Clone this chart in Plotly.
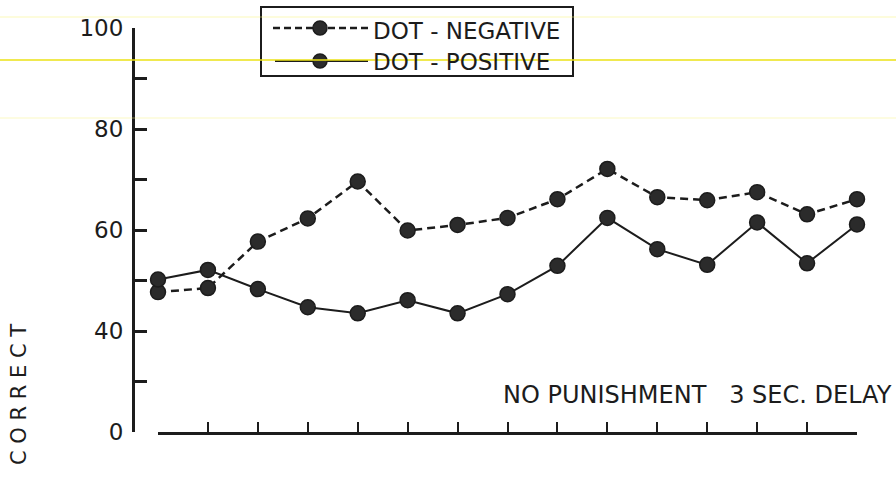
import plotly.graph_objects as go

# Trial blocks and percent-correct scores for the two discrimination conditions
trials = list(range(1, 16))
dot_negative = [47.7, 48.5, 57.7, 62.3, 69.6, 59.9, 61.0, 62.4, 66.1, 72.1, 66.5, 65.9, 67.5, 63.1, 66.1]
dot_positive = [50.2, 52.1, 48.3, 44.7, 43.5, 46.1, 43.5, 47.3, 52.9, 62.4, 56.2, 53.1, 61.5, 53.4, 61.1]

# Broken y axis: the baseline labelled 0 sits one step below 40
y_tickvals = [20, 30, 40, 50, 60, 70, 80, 90, 100]
y_ticktext = ["0", "", "40", "", "60", "", "80", "", "100"]

INK = "#1c1c1c"
FONT = "DejaVu Sans"
W, H = 896, 498


def px_x(p):
    return p / W


def px_y(p):
    return 1 - p / H


marker = dict(size=15, color="#2b2b2b", line=dict(color=INK, width=1.5))

fig = go.Figure()
# empty trace so the carrier subplot (x, y) exists and holds the y axis line
fig.add_trace(go.Scatter(x=[None], y=[None], mode="lines", hoverinfo="skip",
                         showlegend=False, xaxis="x", yaxis="y"))
fig.add_trace(go.Scatter(
    x=trials, y=dot_negative, mode="lines+markers", name="DOT - NEGATIVE",
    line=dict(color=INK, width=2.5, dash="8px,5px"), marker=marker, cliponaxis=False,
    xaxis="x2", yaxis="y",
))
fig.add_trace(go.Scatter(
    x=trials, y=dot_positive, mode="lines+markers", name="DOT - POSITIVE",
    line=dict(color=INK, width=2), marker=marker, cliponaxis=False,
    xaxis="x2", yaxis="y",
))

shapes = []
annotations = []

# Hand-built legend box
shapes.append(dict(type="rect", xref="paper", yref="paper",
                   x0=px_x(261), x1=px_x(573), y0=px_y(76), y1=px_y(7),
                   line=dict(color=INK, width=2), fillcolor="rgba(0,0,0,0)", layer="above"))
shapes.append(dict(type="line", xref="paper", yref="paper",
                   x0=px_x(273), x1=px_x(371), y0=px_y(28), y1=px_y(28),
                   line=dict(color=INK, width=2.5, dash="7px,4px")))
shapes.append(dict(type="line", xref="paper", yref="paper",
                   x0=px_x(275), x1=px_x(368), y0=px_y(61), y1=px_y(61),
                   line=dict(color=INK, width=2)))
for cy in (28, 61):
    shapes.append(dict(type="circle", xref="paper", yref="paper",
                       x0=px_x(313), x1=px_x(327), y0=px_y(cy + 7), y1=px_y(cy - 7),
                       line=dict(color=INK, width=1.5), fillcolor="#2b2b2b"))
for text, cy in (("DOT - NEGATIVE", 31), ("DOT - POSITIVE", 62)):
    annotations.append(dict(text=text, xref="paper", yref="paper",
                            x=px_x(371), y=px_y(cy), xanchor="left", yanchor="middle",
                            showarrow=False, font=dict(family=FONT, size=23, color=INK)))

# Faint yellow streaks running across the sheet
for yy, col, wd in ((17, "rgba(245,240,120,0.35)", 1.5),
                    (60, "rgba(235,225,20,0.75)", 1.8),
                    (118, "rgba(245,240,120,0.3)", 1.5)):
    shapes.append(dict(type="line", xref="paper", yref="paper",
                       x0=0, x1=1, y0=px_y(yy), y1=px_y(yy),
                       line=dict(color=col, width=wd), layer="above"))

annotations.append(dict(text="NO PUNISHMENT   3 SEC. DELAY", xref="paper", yref="paper",
                        x=px_x(894), y=px_y(395), xanchor="right", yanchor="middle",
                        showarrow=False, font=dict(family=FONT, size=24, color=INK)))
annotations.append(dict(text="C O R R E C T", xref="paper", yref="paper",
                        x=px_x(19), y=px_y(395), xanchor="center", yanchor="middle",
                        textangle=-90, showarrow=False,
                        font=dict(family=FONT, size=21, color=INK)))

fig.update_layout(
    width=W, height=H,
    margin=dict(l=0, r=0, t=0, b=0, autoexpand=False),
    paper_bgcolor="white", plot_bgcolor="rgba(0,0,0,0)",
    showlegend=False,
    shapes=shapes, annotations=annotations,
    # carrier axis that places the y axis line left of the trial axis
    xaxis=dict(
        domain=[px_x(135), px_x(857)], range=[0, 1],
        visible=False, showgrid=False, zeroline=False, automargin=False,
        anchor="y",
    ),
    # trial axis with upward ticks, starting just right of the y axis
    xaxis2=dict(
        domain=[px_x(158), px_x(857)], range=[1, 15],
        tickvals=trials, showticklabels=False,
        ticks="inside", ticklen=10, tickwidth=2, tickcolor=INK,
        showline=True, linewidth=3, linecolor=INK,
        showgrid=False, zeroline=False, anchor="y", automargin=False,
    ),
    yaxis=dict(
        domain=[px_y(432), px_y(28)], range=[20, 100],
        anchor="x",
        tickvals=y_tickvals, ticktext=y_ticktext,
        ticks="inside", ticklen=12, tickwidth=3, tickcolor=INK,
        ticklabelstandoff=4,
        tickfont=dict(family=FONT, size=23, color=INK),
        showline=True, linewidth=3, linecolor=INK,
        showgrid=False, zeroline=False, automargin=False,
    ),
)

fig.write_html("out.html")
